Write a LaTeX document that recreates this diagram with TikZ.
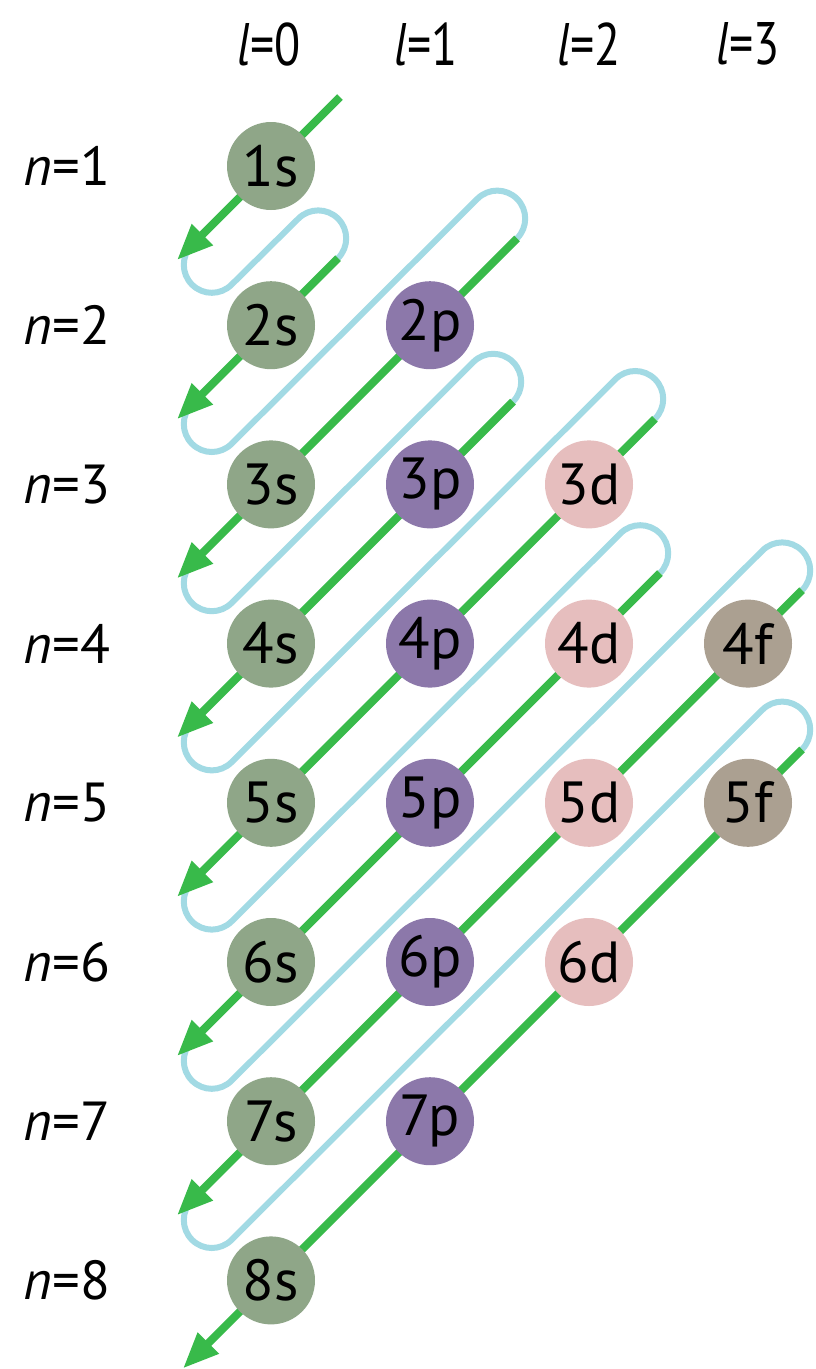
\documentclass[tikz,border=0pt]{standalone}
\usepackage{fontspec}
\setmainfont{PT Sans}
\newfontfamily\narrowfont[FakeStretch=0.8]{PT Sans}
\usetikzlibrary{arrows.meta,calc}
\definecolor{sorb}{HTML}{8FA688}
\definecolor{porb}{HTML}{8C78AA}
\definecolor{dorb}{HTML}{E6BEBE}
\definecolor{forb}{HTML}{ABA091}
\definecolor{arrowgreen}{HTML}{38BA4A}
\definecolor{loopcyan}{HTML}{A2DAE4}
\tikzset{
  orb/.style={circle, minimum size=88pt, inner sep=0pt, font=\fontsize{58}{62}\selectfont},
  sorbital/.style={orb, fill=sorb},
  porbital/.style={orb, fill=porb},
  dorbital/.style={orb, fill=dorb},
  forbital/.style={orb, fill=forb},
  rowlabel/.style={inner sep=0pt, font=\fontsize{55}{60}\selectfont},
  collabel/.style={inner sep=0pt, font=\narrowfont\fontsize{60}{64}\selectfont},
  greenarrow/.style={draw=arrowgreen, line width=8pt, -{Triangle[length=36pt,width=28pt]}},
  cyanloop/.style={draw=loopcyan, line width=6pt}
}
\begin{document}
\begin{tikzpicture}[x=1pt,y=-1pt]
\useasboundingbox (0,0) rectangle (815,1369);
\fill[white] (0,0) rectangle (815,1369);

% green line end points
\coordinate (gs1) at (340,97);
\coordinate (gs2) at (338,258.2);
\coordinate (gs3) at (517,238.4);
\coordinate (gs4) at (513,401.6);
\coordinate (gs5) at (655,418.8);
\coordinate (gs6) at (660,573);
\coordinate (gs7) at (802,590.2);
\coordinate (gs8) at (802,749.4);
\coordinate (ge1) at (177,260);
\coordinate (ge2) at (177,419.2);
\coordinate (ge3) at (177,578.4);
\coordinate (ge4) at (177,737.6);
\coordinate (ge5) at (177,896.8);
\coordinate (ge6) at (177,1056);
\coordinate (ge7) at (177,1215.2);
\coordinate (ge8) at (183,1368.4);

% cyan hairpins
\foreach \k/\kk in {1/2,2/3,3/4,4/5,5/6,6/7,7/8}{
  \draw[cyanloop] ($(ge\k)+(15,-15)$) arc[start angle=225, end angle=45, radius=28]
     -- ($(gs\kk)+(-39.6,-39.6)$) arc[start angle=225, end angle=405, radius=28];
}

% green arrows
\foreach \k in {1,...,8}{
  \draw[greenarrow] (gs\k) -- (ge\k);
}

% orbitals
\node[sorbital] (o1s) at (271,166) {1s};
\node[sorbital] (o2s) at (271,325.2) {2s};
\node[sorbital] (o3s) at (271,484.4) {3s};
\node[sorbital] (o4s) at (271,643.6) {4s};
\node[sorbital] (o5s) at (271,802.8) {5s};
\node[sorbital] (o6s) at (271,962) {6s};
\node[sorbital] (o7s) at (271,1121.2) {7s};
\node[sorbital] (o8s) at (271,1280.4) {8s};
\node[porbital] (o2p) at (430,325.2) {2p};
\node[porbital] (o3p) at (430,484.4) {3p};
\node[porbital] (o4p) at (430,643.6) {4p};
\node[porbital] (o5p) at (430,802.8) {5p};
\node[porbital] (o6p) at (430,962) {6p};
\node[porbital] (o7p) at (430,1121.2) {7p};
\node[dorbital] (o3d) at (589,484.4) {3d};
\node[dorbital] (o4d) at (589,643.6) {4d};
\node[dorbital] (o5d) at (589,802.8) {5d};
\node[dorbital] (o6d) at (589,962) {6d};
\node[forbital] (o4f) at (748,643.6) {4f};
\node[forbital] (o5f) at (748,802.8) {5f};

% row labels
\node[rowlabel] (n1) at (67,166) {\textit{n}=1};
\node[rowlabel] (n2) at (67,325.2) {\textit{n}=2};
\node[rowlabel] (n3) at (67,484.4) {\textit{n}=3};
\node[rowlabel] (n4) at (67,643.6) {\textit{n}=4};
\node[rowlabel] (n5) at (67,802.8) {\textit{n}=5};
\node[rowlabel] (n6) at (67,962) {\textit{n}=6};
\node[rowlabel] (n7) at (67,1121.2) {\textit{n}=7};
\node[rowlabel] (n8) at (67,1280.4) {\textit{n}=8};

% column labels
\node[collabel] (l0) at (269,44) {\textit{l}=0};
\node[collabel] (l1) at (426,44) {\textit{l}=1};
\node[collabel] (l2) at (589,44) {\textit{l}=2};
\node[collabel] (l3) at (748,44) {\textit{l}=3};
\end{tikzpicture}
\end{document}
